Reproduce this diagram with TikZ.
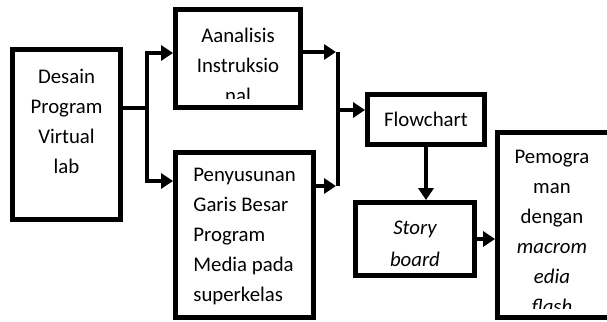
\documentclass[tikz,border=0pt]{standalone}
\usepackage{fontspec}
\setmainfont{Carlito}
\usetikzlibrary{arrows.meta}

\tikzset{
  box/.style={draw=black, line width=2.4pt, inner sep=0pt},
  txt/.style={inner sep=0pt, align=center, font=\fontsize{10.4}{15}\selectfont},
  link/.style={line width=2pt},
  flow/.style={line width=2pt, -{Triangle[length=6pt,width=7.5pt]}},
}

\begin{document}
\begin{tikzpicture}[x=0.5pt, y=-0.5pt]
    \useasboundingbox (0,0) rectangle (607,322);

    % the boxes
    \node[box, minimum width=54pt, minimum height=85pt] (desain) at (66.5,134.5) {};
    \node[box, minimum width=62.5pt, minimum height=49pt] (analisis) at (238,58.5) {};
    \node[box, minimum width=69pt, minimum height=82.5pt] (penyusunan) at (244.5,235) {};
    \node[box, minimum width=58.5pt, minimum height=25pt] (flowchart) at (426,119.5) {};
    \node[box, minimum width=59.5pt, minimum height=36.5pt] (storyboard) at (415,239) {};
    \node[box, minimum width=56.25pt, minimum height=92.5pt] (pemograman) at (553.75,225) {};

    % the texts, cut off where they run out of the box
    \node[txt, anchor=north] (tdesain) at (66.5,69) {Desain\\Program\\Virtual\\lab};
    \begin{scope}
        \clip ([shift={(5,5)}]analisis.north west) rectangle ([shift={(-5,-11)}]analisis.south east);
        \node[txt, anchor=north] (tanalisis) at (238,28) {Aanalisis\\Instruksio\\nal};
    \end{scope}
    \node[txt, anchor=north west, align=left] (tpenyusunan) at (193,168) {Penyusunan\\Garis Besar\\Program\\Media pada\\superkelas};
    \node[txt, anchor=north] (tflowchart) at (426,112) {Flowchart};
    \node[txt, anchor=north, font=\fontsize{10.4}{16}\selectfont\itshape] (tstoryboard) at (415,221) {Story\\board};
    \begin{scope}
        \clip ([shift={(5,5)}]pemograman.north west) rectangle ([shift={(-5,-11)}]pemograman.south east);
        \node[txt, anchor=north] (tpemograman) at (552,150) {Pemogra\\man\\dengan\\\textit{macrom}\\\textit{edia}\\\textit{flash}};
    \end{scope}

    % split
    \coordinate (split) at (147,108);
    \draw[link] (desain.east |- split) -- (split);
    \draw[flow] (split) |- ([yshift=2.75pt]analisis.west);
    \draw[flow] (split) |- ([yshift=27pt]penyusunan.west);

    % merge
    \coordinate (mtop) at (338,52);
    \coordinate (mbot) at (338,186);
    \coordinate (merge) at (338,110);
    \draw[link] (mtop) -- (mbot);
    \draw[flow, shorten >=1pt] (analisis.east |- mtop) -- (mtop);
    \draw[flow, shorten >=1pt] (penyusunan.east |- mbot) -- (mbot);
    \draw[flow] (merge) -- (merge -| flowchart.west);

    \draw[flow] (flowchart.south) -- (flowchart.south |- storyboard.north);
    \draw[flow] (storyboard.east) -- (storyboard.east -| pemograman.west);
\end{tikzpicture}
\end{document}
